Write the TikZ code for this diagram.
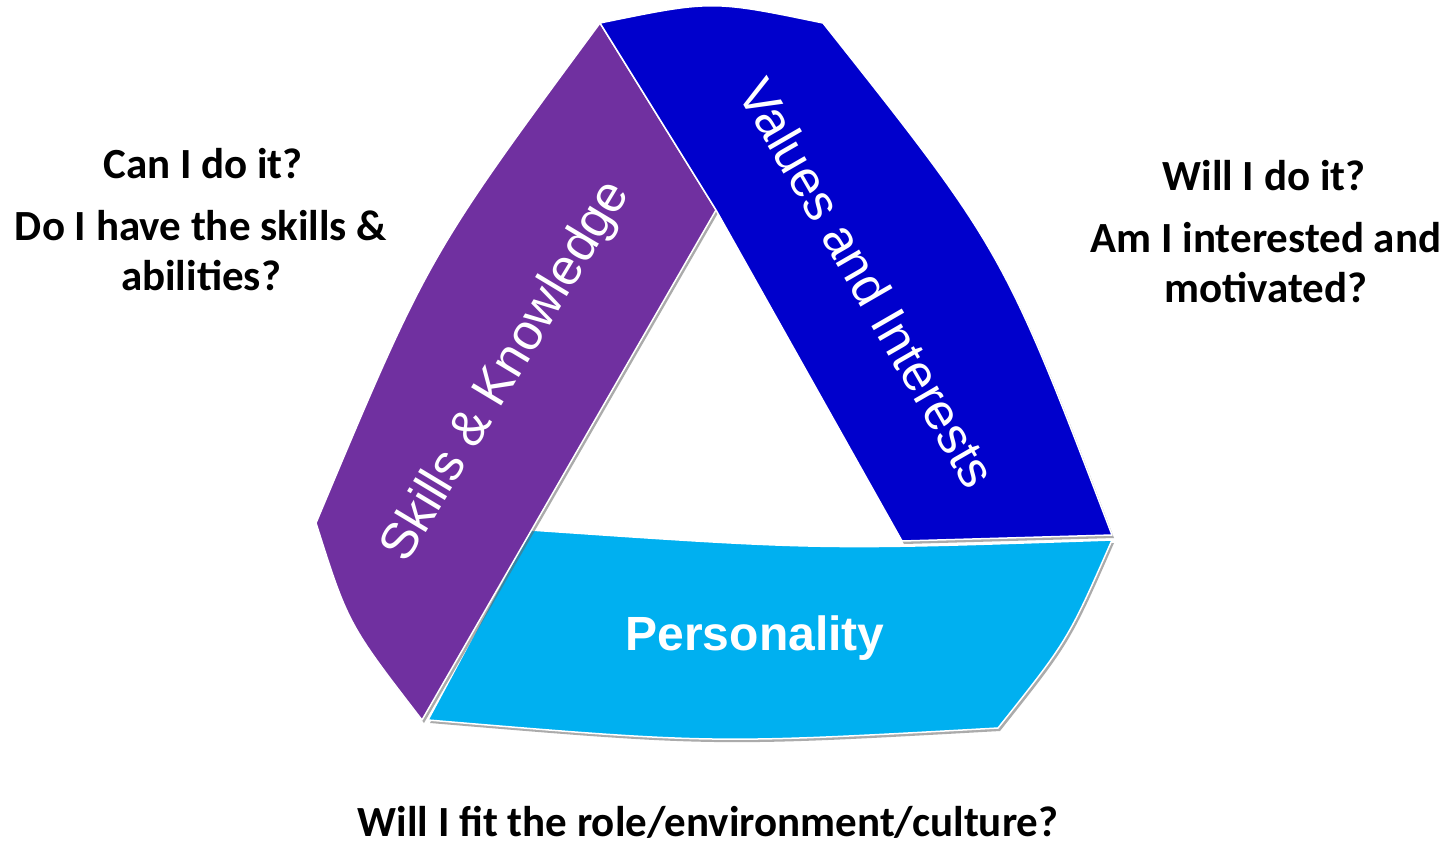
\documentclass[tikz,border=0pt]{standalone}
\usepackage{fontspec}
\setmainfont{Carlito}
\newfontfamily\bandfont{Liberation Sans}
\usetikzlibrary{shadows}
\definecolor{skillpurple}{HTML}{7030A0}
\definecolor{valueblue}{HTML}{0000CC}
\definecolor{personcyan}{HTML}{00B0F0}

\begin{document}
\begin{tikzpicture}[x=1pt,y=-1pt,
  band/.style={draw=white, line width=1.5pt, line join=round,
    drop shadow={shadow xshift=2pt, shadow yshift=-3pt, opacity=0.55, fill=black!60}},
  question/.style={font=\fontsize{43}{50}\selectfont\bfseries, align=center, anchor=base},
  bandlabel/.style={text=white, font=\bandfont\fontsize{51}{51}\selectfont}]
\useasboundingbox (0,0) rectangle (1450,847);
\fill[white] (0,0) rectangle (1450,847);

\path[band, fill=personcyan] (530,530) .. controls (821,550) .. (1112,540)
  .. controls (1068,640) .. (998,728) .. controls (713,744) .. (428,720) -- cycle;
\path[band, fill=skillpurple] (600,23) .. controls (428,256) .. (316,523)
  .. controls (348,624) .. (422,720) -- (716,210) -- cycle;
\path[band, fill=valueblue] (600,23) .. controls (712,0) .. (823,23)
  .. controls (1003,250) .. (1112,535) -- (902,541) -- (716,210) -- cycle;

\node[bandlabel, rotate=59] (skills) at (507,372) {Skills \& Knowledge};
\node[bandlabel, rotate=-60] (values) at (868,283) {Values and Interests};
\node[bandlabel, font=\bandfont\bfseries\fontsize{48}{48}\selectfont, anchor=base] (person) at (755,650) {Personality};

\node[question] (cando) at (203,178) {Can I do it?};
\node[question] (haveskills) at (201,290) {Do I have the skills \&\\abilities?};
\node[question] (willdo) at (1264,190) {Will I do it?};
\node[question] (interested) at (1266,302) {Am I interested and\\motivated?};
\node[question] (fit) at (708,836) {Will I fit the role/environment/culture?};
\end{tikzpicture}
\end{document}
